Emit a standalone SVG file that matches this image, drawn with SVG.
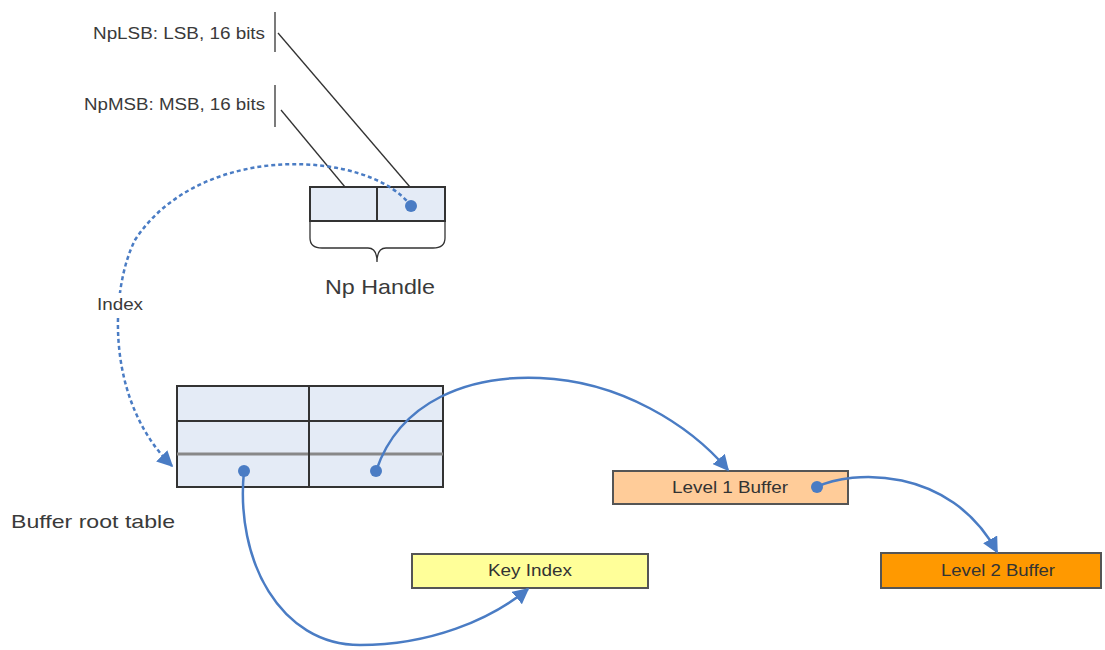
<svg xmlns="http://www.w3.org/2000/svg" width="1105" height="650" viewBox="0 0 1105 650">
<defs>
<style>
text{font-family:"Liberation Sans",Arial,sans-serif;fill:#3a3a3a;}
.lbl{font-size:16px;}
.cell{fill:#E4EBF6;stroke:#333;stroke-width:2;}
.blue{fill:none;stroke:#4A7CC4;stroke-width:2.5;}
.dot{fill:#4A7CC4;}
.thin{stroke:#333;stroke-width:1.3;fill:none;}
.box{stroke:#555;stroke-width:2;}
.btxt{font-size:16px;fill:#333;}
</style>
<marker id="ah" viewBox="0 0 10 10" refX="9" refY="5" markerWidth="16" markerHeight="16" markerUnits="userSpaceOnUse" orient="auto">
<path d="M0,0 L10,5 L0,10 z" fill="#4A7CC4"/>
</marker>
</defs>
<rect width="1105" height="650" fill="#fff"/>

<g id="labels">
<text class="lbl" x="93" y="39" textLength="172" lengthAdjust="spacingAndGlyphs">NpLSB: LSB, 16 bits</text>
<line class="thin" x1="275" y1="12" x2="275" y2="52" stroke-width="2"/>
<text class="lbl" x="84" y="110" textLength="181" lengthAdjust="spacingAndGlyphs">NpMSB: MSB, 16 bits</text>
<line class="thin" x1="275" y1="85" x2="275" y2="127" stroke-width="2"/>
</g>

<g id="np-handle">
<rect class="cell" x="310" y="187" width="135" height="34"/>
<line x1="377" y1="187" x2="377" y2="221" stroke="#333" stroke-width="2"/>
<path class="thin" stroke-width="1.8" d="M310,221 V238 Q310,248 322,248 H368 Q377,248 377,262 Q377,248 386,248 H433 Q445,248 445,238 V221"/>
<text x="325" y="294" font-size="21" textLength="110" lengthAdjust="spacingAndGlyphs">Np Handle</text>
</g>

<g id="root-table">
<rect class="cell" x="177" y="386" width="266" height="101"/>
<line x1="177" y1="421" x2="443" y2="421" stroke="#333" stroke-width="2"/>
<line x1="177" y1="454" x2="443" y2="454" stroke="#888" stroke-width="3"/>
<line x1="309" y1="386" x2="309" y2="487" stroke="#333" stroke-width="2"/>
<text x="11" y="528" font-size="19" textLength="164" lengthAdjust="spacingAndGlyphs">Buffer root table</text>
</g>

<g id="level1">
<rect class="box" x="613" y="471" width="235" height="33" fill="#FFCC99"/>
<text class="btxt" x="672" y="493" textLength="116" lengthAdjust="spacingAndGlyphs">Level 1 Buffer</text>
</g>

<g id="level2">
<rect class="box" x="881" y="553" width="220" height="35" fill="#FF9900"/>
<text class="btxt" x="941" y="576" textLength="114" lengthAdjust="spacingAndGlyphs">Level 2 Buffer</text>
</g>

<g id="key-index">
<rect class="box" x="412" y="554" width="236" height="34" fill="#FFFF99"/>
<text class="btxt" x="488" y="576" textLength="84" lengthAdjust="spacingAndGlyphs">Key Index</text>
</g>

<g id="connectors">
<line class="thin" x1="278" y1="33" x2="410" y2="187"/>
<line class="thin" x1="281" y1="110" x2="345" y2="187"/>
<path class="blue" stroke-width="2" stroke-dasharray="4,3" d="M411,206 C370,150 200,140 135,240 C110,290 105,400 172,466" marker-end="url(#ah)"/>
<rect x="94" y="293" width="54" height="22" fill="#fff"/>
<text class="lbl" x="97" y="310" textLength="46" lengthAdjust="spacingAndGlyphs">Index</text>
<path class="blue" d="M376,471 C400,400 470,375 540,378 C620,381 690,425 728,470" marker-end="url(#ah)"/>
<path class="blue" d="M817,487 C850,470 950,465 997,552" marker-end="url(#ah)"/>
<path class="blue" d="M244,471 C235,560 280,645 360,645 C430,645 490,620 528,589" marker-end="url(#ah)"/>
<circle class="dot" cx="411" cy="206" r="6"/>
<circle class="dot" cx="376" cy="471" r="6"/>
<circle class="dot" cx="244" cy="471" r="6"/>
<circle class="dot" cx="817" cy="487" r="6"/>
</g>
</svg>
